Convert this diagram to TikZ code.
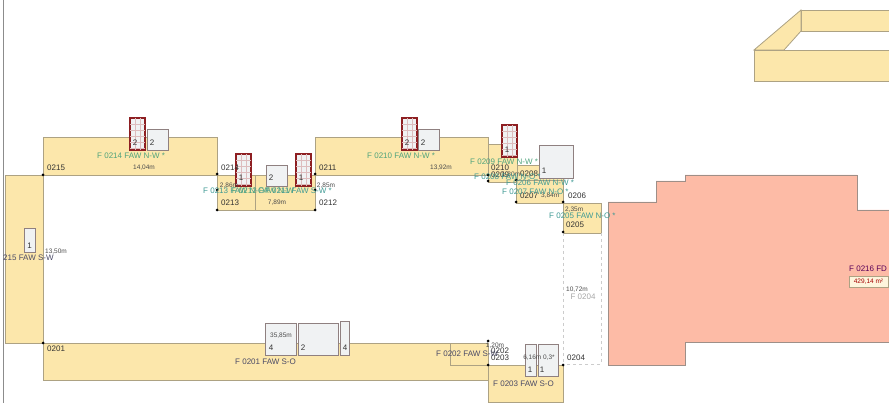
\documentclass[tikz,border=0pt]{standalone}
\usepackage{xcolor}
\usepackage{fontspec}
\setmainfont{Liberation Sans}
\definecolor{wallfill}{HTML}{FCE7AB}
\definecolor{walledge}{HTML}{ADA283}
\definecolor{floorfill}{HTML}{FDBBA6}
\definecolor{floorline}{HTML}{9E8F88}
\definecolor{boxfill}{HTML}{F0F2F3}
\definecolor{boxedge}{HTML}{8F8080}
\definecolor{winred}{HTML}{8E1F22}
\definecolor{tealname}{HTML}{3F9A94}
\definecolor{greenname}{HTML}{4FA37C}
\definecolor{darkname}{HTML}{4A4A66}
\tikzset{
	wall/.style={draw=walledge,fill=wallfill,line width=0.8pt},
	floorplate/.style={draw=floorline,fill=floorfill,line width=0.8pt},
	openbox/.style={draw=boxedge,fill=boxfill,line width=0.9pt},
	winframe/.style={draw=winred,fill=boxfill,line width=1.1pt},
	wingrid/.style={draw=winred!30,line width=0.4pt},
	ghost/.style={draw=black!20,dashed,line width=0.6pt},
	lbl/.style={inner sep=0pt,font=\fontsize{8}{9}\selectfont,text=black!80},
	dim/.style={inner sep=0pt,font=\fontsize{6.5}{7}\selectfont,text=black!70},
	teal/.style={inner sep=0pt,font=\fontsize{8}{9}\selectfont,text=tealname},
	green/.style={inner sep=0pt,font=\fontsize{8}{9}\selectfont,text=greenname},
	dark/.style={inner sep=0pt,font=\fontsize{8}{9}\selectfont,text=darkname},
	pt/.style={circle,fill=black,inner sep=0pt,minimum size=3pt}
}
\begin{document}
\begin{tikzpicture}[x=1pt,y=-1pt]
	\useasboundingbox (0,0) rectangle (889,403);
	\draw[black!45,line width=1pt] (3,0) -- (3,403);
	% upper right block
	\draw[wall] (801,10) rectangle (889,31);
	\draw[wall] (754,50) -- (801,10) -- (801,31) -- (784,50) -- cycle;
	\draw[wall] (889,50) -- (754,50) -- (754,81) -- (889,81);
	% flat roof
	\draw[floorplate] (608,202) -- (656,202) -- (656,181) -- (685,181) -- (685,175) -- (857,175) -- (857,210) -- (889,210) -- (889,342) -- (685,342) -- (685,365) -- (608,365) -- cycle;
	% walls, going round
	\draw[wall] (5,175) rectangle (43,343);
	\draw[wall] (43,137) rectangle (217,175);
	\draw[wall] (217,175) rectangle (255,210);
	\draw[wall] (255,175) rectangle (315,210);
	\draw[wall] (315,137) rectangle (488,175);
	\draw[wall] (488,144) rectangle (517,182);
	\draw[wall] (517,165) rectangle (563,180);
	\draw[wall] (516,180) rectangle (563,203);
	\draw[wall] (563,203) rectangle (601,233);
	\draw[ghost] (563,233) -- (563,365);
	\draw[ghost] (601,233) -- (601,364) -- (563,364);
	\draw[wall] (43,343) rectangle (488,380);
	\draw[wall] (450,343) rectangle (488,365);
	\draw[wall] (488,365) rectangle (563,402);
	% windows
	\foreach \wx/\wy in {130/118,236/154,296/154,402/118,502/125}{
		\draw[winframe] (\wx,\wy) rectangle ++(15,32);
		\foreach \k in {5,10}
			\draw[wingrid] (\wx+\k,\wy) -- (\wx+\k,\wy+32);
		\foreach \k in {6,12,...,30}
			\draw[wingrid] (\wx,\wy+\k) -- (\wx+15,\wy+\k);
	}
	% door and gate boxes
	\foreach \ax/\ay/\bx/\by in {147/129/168/150,266/165/287/186,418/129/439/150,539/145/573/178,24/228/35/252,265/323/296/355,298/323/338/355,340/321/349/355,525/344/536/376,538/344/558/376}
		\draw[openbox] (\ax,\ay) rectangle (\bx,\by);
	% corner points
	\foreach \px/\py in {43/175,43/343,217/174,217/210,315/174,315/210,217/190,315/190,488/341,488/365,563/365,488/175,488/181,516/180,516/202,563/202,563/232}
		\node[pt] at (\px,\py) {};
	% box counts
	\node[lbl] (c1) at (29.5,246) {1};
	\node[lbl] (c2) at (135,143) {2};
	\node[lbl] (c3) at (152,143) {2};
	\node[lbl] (c4) at (241,178) {1};
	\node[lbl] (c5) at (271,178) {2};
	\node[lbl] (c6) at (301,178) {1};
	\node[lbl] (c7) at (407,143) {2};
	\node[lbl] (c8) at (423,143) {2};
	\node[lbl] (c9) at (507,150) {1};
	\node[lbl] (c10) at (544,171) {1};
	\node[lbl] (c11) at (271,348) {4};
	\node[lbl] (c12) at (303,348) {2};
	\node[lbl] (c13) at (345,348) {4};
	\node[lbl] (c14) at (530,370) {1};
	\node[lbl] (c15) at (542,370) {1};
	% axis numbers
	\node[lbl,anchor=west] (a215) at (47,168) {0215};
	\node[lbl,anchor=west] (a214) at (221,168) {0214};
	\node[lbl,anchor=west] (a213) at (221,203) {0213};
	\node[lbl,anchor=west] (a212) at (319,203) {0212};
	\node[lbl,anchor=west] (a211) at (319,168) {0211};
	\node[lbl,anchor=west] (a210) at (491,168) {0210};
	\node[lbl,anchor=west] (a209) at (491,175) {0209};
	\node[lbl,anchor=west] (a208) at (520,174) {0208};
	\node[lbl,anchor=west] (a207) at (520,196) {0207};
	\node[lbl,anchor=west] (a206) at (568,196) {0206};
	\node[lbl,anchor=west] (a205) at (566,225) {0205};
	\node[lbl,anchor=west] (a204) at (567,358) {0204};
	\node[lbl,anchor=west] (a203) at (491,358) {0203};
	\node[lbl,anchor=west] (a202) at (491,351) {0202};
	\node[lbl,anchor=west] (a201) at (47,349) {0201};
	% lengths
	\node[dim] (d1) at (144,168) {14,04m};
	\node[dim] (d2) at (56,252) {13,50m};
	\node[dim] (d3) at (229,186) {2,86m};
	\node[dim] (d4) at (326,186) {2,85m};
	\node[dim] (d5) at (277,203) {7,89m};
	\node[dim] (d6) at (441,168) {13,92m};
	\node[dim] (d7) at (511,175) {1,30m};
	\node[dim,anchor=west] (d8) at (541,196) {3,84m};
	\node[dim,anchor=west] (d9) at (565,210) {2,35m};
	\node[dim] (d10) at (577,290) {10,72m};
	\node[dim] (d11) at (281,336) {35,85m};
	\node[dim] (d12) at (495,346) {1,20m};
	\node[dim] (d13) at (539,358) {6,16m 0,3*};
	% element names
	\node[green,anchor=west] (f214) at (97,156) {F 0214 FAW N-W *};
	\node[teal,anchor=west] (f213) at (203,191) {F 0213 FAW N-O *};
	\node[green] (f212) at (263,191) {F 0212 FAW N-W};
	\node[teal,anchor=east] (f211) at (332,191) {F 0211 FAW S-W *};
	\node[green,anchor=west] (f210) at (367,156) {F 0210 FAW N-W *};
	\node[green,anchor=west] (f209) at (470,162) {F 0209 FAW N-W *};
	\node[teal,anchor=west] (f208) at (474,177) {F 0208 FAW N-O *};
	\node[teal,anchor=west] (f206) at (506,183) {F 0206 FAW N-W *};
	\node[teal,anchor=west] (f207) at (502,192) {F 0207 FAW N-O *};
	\node[teal,anchor=west] (f205) at (549,216) {F 0205 FAW N-O *};
	\node[dark,anchor=west] (f215) at (3,258) {215 FAW S-W};
	\node[dark,anchor=west] (f201) at (235,362) {F 0201 FAW S-O};
	\node[dark,anchor=west] (f202) at (436,354) {F 0202 FAW S-W};
	\node[dark,anchor=west] (f203) at (493,384) {F 0203 FAW S-O};
	\node[inner sep=0pt,font=\fontsize{8}{9}\selectfont,text=black!35] (f204) at (583,297) {F 0204};
	\node[inner sep=0pt,font=\fontsize{8}{9}\selectfont,text=violet!70!black,anchor=west] (f216) at (849,269) {F 0216 FD};
	\node[draw=walledge,fill=wallfill!40,inner sep=0pt,minimum width=39pt,minimum height=11pt,font=\fontsize{6.5}{7}\selectfont,text=red!65!black] (area) at (868.5,281.5) {429,14 m²};
\end{tikzpicture}
\end{document}
